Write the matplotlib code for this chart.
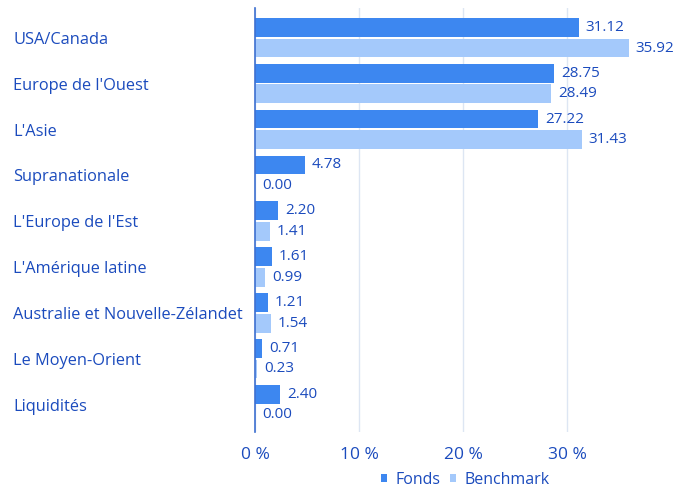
import numpy as np
import matplotlib.pyplot as plt

regions = ['USA/Canada', "Europe de l'Ouest", "L'Asie", 'Supranationale',
           "L'Europe de l'Est", "L'Amérique latine", 'Australie et Nouvelle-Zélandet',
           'Le Moyen-Orient', 'Liquidités']
fonds = [31.12, 28.75, 27.22, 4.78, 2.20, 1.61, 1.21, 0.71, 2.40]
bench = [35.92, 28.49, 31.43, 0.00, 1.41, 0.99, 1.54, 0.23, 0.00]
xticks = [0, 10, 20, 30]

c_fonds = '#3d87f0'
c_bench = '#a4c9fb'
c_text = '#1b4bbd'

plt.rcParams['font.family'] = ['Open Sans', 'DejaVu Sans']

fig = plt.figure(figsize=(6.91, 4.98), dpi=100)
ax = fig.add_axes([0.369, 0.133, 0.602, 0.851])

y = np.arange(len(regions))
h = 0.41
b1 = ax.barh(y - 0.23, fonds, h, color=c_fonds, label='Fonds')
b2 = ax.barh(y + 0.22, bench, h, color=c_bench, label='Benchmark')
ax.bar_label(b1, fmt='%.2f', padding=5, color=c_text, fontsize=11)
ax.bar_label(b2, fmt='%.2f', padding=5, color=c_text, fontsize=11)

ax.set_ylim(8.59, -0.654)
ax.set_xlim(0, 40)
ax.set_yticks(y)
ax.set_yticklabels(regions, fontsize=11.8, color=c_text, ha='left')
ax.tick_params(axis='y', length=0, pad=174)
ax.set_xticks(xticks)
ax.set_xticklabels([f'{t} %' for t in xticks], fontsize=12.5, color=c_text)
ax.tick_params(axis='x', length=0, pad=11)
ax.grid(axis='x', color='#dde6f3', linewidth=1)
ax.set_axisbelow(True)
for s in ['top', 'right', 'bottom']:
    ax.spines[s].set_visible(False)
ax.spines['left'].set_color('#3d6fd0')
ax.spines['left'].set_linewidth(1.2)

fig.legend(loc='lower center', bbox_to_anchor=(0.673, -0.008), ncol=2, frameon=False,
           handlelength=0.4, handleheight=0.4, handletextpad=0.5, columnspacing=0.6,
           labelcolor=c_text, prop={'size': 11.5})

fig.savefig('out.png', dpi=100)
